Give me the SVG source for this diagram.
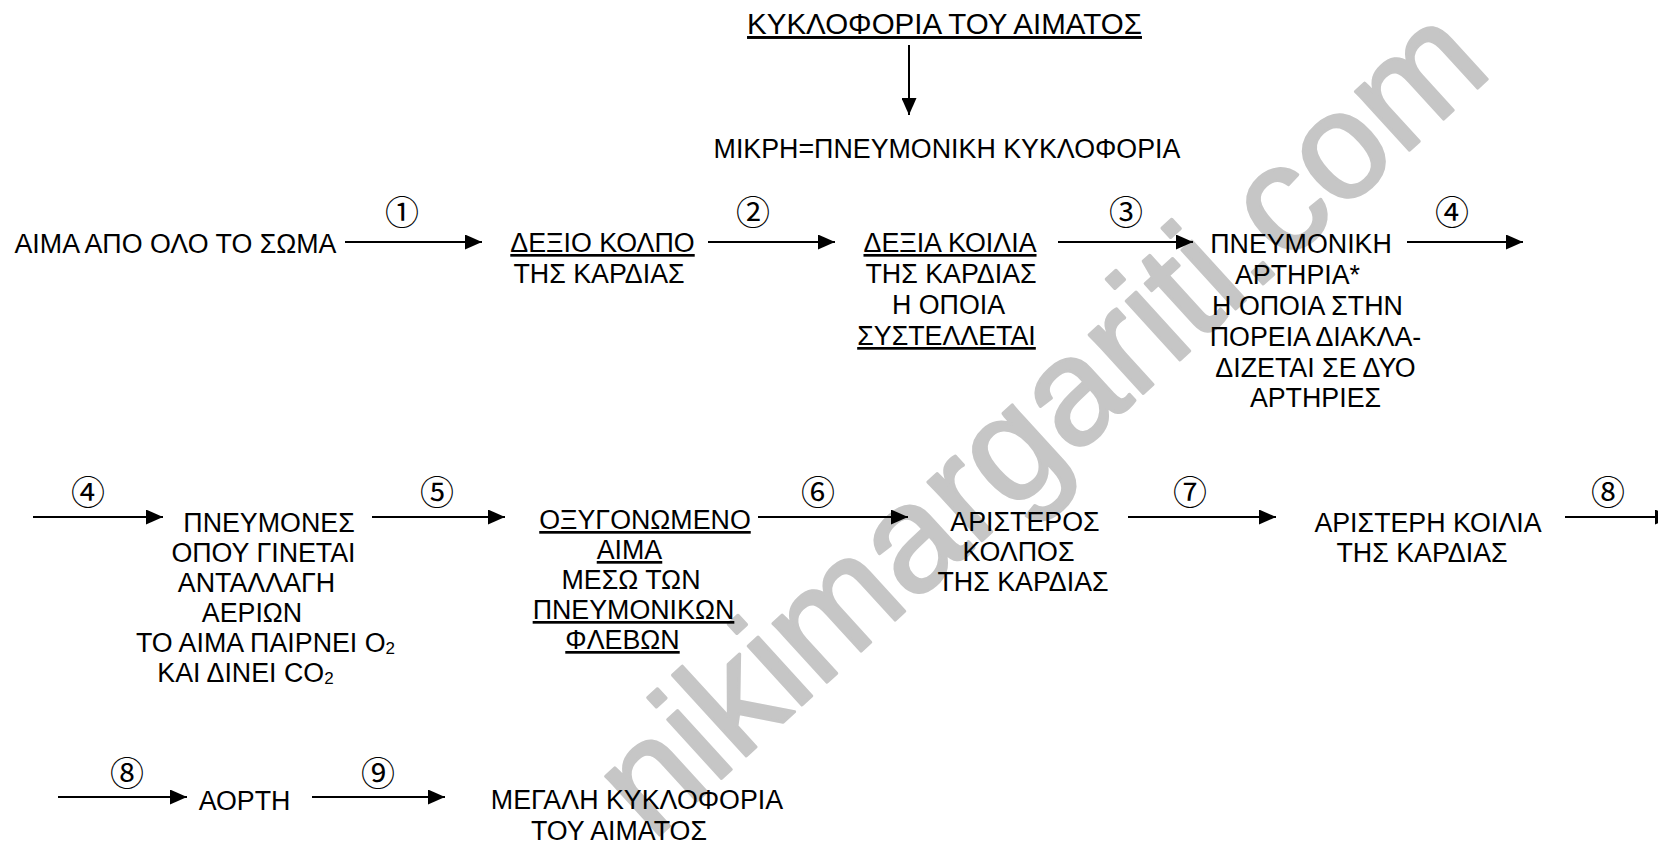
<svg xmlns="http://www.w3.org/2000/svg" width="1658" height="843" viewBox="0 0 1658 843">
<style>
  text { font-family: "Liberation Sans", Arial, sans-serif; fill: #000; }
  .t { font-size: 26.8px; text-anchor: middle; }
  .title { font-size: 29.5px; text-anchor: middle; }
  .u { text-decoration: underline; }
  .num { font-family: "Noto Sans CJK JP", "DejaVu Sans", sans-serif; font-size: 34px; text-anchor: middle; dominant-baseline: central; }
  .wm { font-family: "Liberation Sans", Arial, sans-serif; font-size: 151px; fill: #c6c6c6; stroke: #c6c6c6; stroke-width: 3; stroke-linejoin: round; stroke-linecap: round; }
  .arr { stroke: #000; stroke-width: 2; fill: none; marker-end: url(#ah); }
  .sub { font-size: 17px; }
</style>
<defs>
  <marker id="ah" viewBox="0 0 17 15" refX="17" refY="7.5" markerWidth="17" markerHeight="15" markerUnits="userSpaceOnUse" orient="auto">
    <path d="M0,0 L17,7.5 L0,15 z" fill="#000"/>
  </marker>
</defs>
<rect width="1658" height="843" fill="#fff"/>

<g id="watermark">
  <text class="wm" x="652" y="842" transform="rotate(-42.4 652 842)">nikimargariti.com</text>
</g>

<g id="connectors">
  <g id="c-title"><line class="arr" x1="909" y1="45" x2="909" y2="115"/></g>
  <g id="c1"><line class="arr" x1="345" y1="242" x2="482" y2="242"/><text class="num" x="402" y="210">①</text></g>
  <g id="c2"><line class="arr" x1="708" y1="242" x2="835" y2="242"/><text class="num" x="753" y="210">②</text></g>
  <g id="c3"><line class="arr" x1="1058" y1="242" x2="1193" y2="242"/><text class="num" x="1126" y="210">③</text></g>
  <g id="c4a"><line class="arr" x1="1407" y1="242" x2="1523" y2="242"/><text class="num" x="1452" y="210">④</text></g>
  <g id="c4b"><line class="arr" x1="33" y1="517" x2="163" y2="517"/><text class="num" x="88" y="490">④</text></g>
  <g id="c5"><line class="arr" x1="372" y1="517" x2="505" y2="517"/><text class="num" x="437" y="490">⑤</text></g>
  <g id="c6"><line class="arr" x1="758" y1="517" x2="908" y2="517"/><text class="num" x="818" y="490">⑥</text></g>
  <g id="c7"><line class="arr" x1="1128" y1="517" x2="1276" y2="517"/><text class="num" x="1190" y="490">⑦</text></g>
  <g id="c8a"><line class="arr" x1="1565" y1="517" x2="1672" y2="517"/><text class="num" x="1608" y="490">⑧</text></g>
  <g id="c8b"><line class="arr" x1="58" y1="797" x2="187" y2="797"/><text class="num" x="127" y="771">⑧</text></g>
  <g id="c9"><line class="arr" x1="312" y1="797" x2="445" y2="797"/><text class="num" x="378" y="771">⑨</text></g>
</g>

<g id="n-title">
  <text class="title u" x="944.5" y="34">ΚΥΚΛΟΦΟΡΙΑ ΤΟΥ ΑΙΜΑΤΟΣ</text>
</g>
<g id="n-mikri">
  <text class="t" x="947" y="158">ΜΙΚΡΗ=ΠΝΕΥΜΟΝΙΚΗ ΚΥΚΛΟΦΟΡΙΑ</text>
</g>
<g id="n-aima">
  <text class="t" x="175.5" y="253">ΑΙΜΑ ΑΠΟ ΟΛΟ ΤΟ ΣΩΜΑ</text>
</g>
<g id="n-dexio-kolpo">
  <text class="t u" x="602.5" y="252">ΔΕΞΙΟ ΚΟΛΠΟ</text>
  <text class="t" x="599" y="283">ΤΗΣ ΚΑΡΔΙΑΣ</text>
</g>
<g id="n-dexia-koilia">
  <text class="t u" x="950" y="252">ΔΕΞΙΑ ΚΟΙΛΙΑ</text>
  <text class="t" x="951" y="283">ΤΗΣ ΚΑΡΔΙΑΣ</text>
  <text class="t" x="948.5" y="314">Η ΟΠΟΙΑ</text>
  <text class="t u" x="946.5" y="345">ΣΥΣΤΕΛΛΕΤΑΙ</text>
</g>
<g id="n-pneumoniki-artiria">
  <text class="t" x="1301" y="253">ΠΝΕΥΜΟΝΙΚΗ</text>
  <text class="t" x="1297.5" y="284">ΑΡΤΗΡΙΑ*</text>
  <text class="t" x="1307.5" y="315">Η ΟΠΟΙΑ ΣΤΗΝ</text>
  <text class="t" x="1315.5" y="346">ΠΟΡΕΙΑ ΔΙΑΚΛΑ-</text>
  <text class="t" x="1315.5" y="377">ΔΙΖΕΤΑΙ ΣΕ ΔΥΟ</text>
  <text class="t" x="1315.5" y="407">ΑΡΤΗΡΙΕΣ</text>
</g>
<g id="n-pneumones">
  <text class="t" x="269" y="532">ΠΝΕΥΜΟΝΕΣ</text>
  <text class="t" x="263.5" y="562">ΟΠΟΥ ΓΙΝΕΤΑΙ</text>
  <text class="t" x="256.5" y="592">ΑΝΤΑΛΛΑΓΗ</text>
  <text class="t" x="252" y="622">ΑΕΡΙΩΝ</text>
  <text class="t" x="265.5" y="652">ΤΟ ΑΙΜΑ ΠΑΙΡΝΕΙ Ο<tspan class="sub" dy="2">2</tspan></text>
  <text class="t" x="245.5" y="682">ΚΑΙ ΔΙΝΕΙ CO<tspan class="sub" dy="2">2</tspan></text>
</g>
<g id="n-oxygonomeno">
  <text class="t u" x="645" y="529">ΟΞΥΓΟΝΩΜΕΝΟ</text>
  <text class="t u" x="629.5" y="559">ΑΙΜΑ</text>
  <text class="t" x="631" y="589">ΜΕΣΩ ΤΩΝ</text>
  <text class="t u" x="633.5" y="619">ΠΝΕΥΜΟΝΙΚΩΝ</text>
  <text class="t u" x="622.5" y="649">ΦΛΕΒΩΝ</text>
</g>
<g id="n-aristeros-kolpos">
  <text class="t" x="1025" y="531">ΑΡΙΣΤΕΡΟΣ</text>
  <text class="t" x="1018.5" y="561">ΚΟΛΠΟΣ</text>
  <text class="t" x="1023" y="591">ΤΗΣ ΚΑΡΔΙΑΣ</text>
</g>
<g id="n-aristeri-koilia">
  <text class="t" x="1428" y="532">ΑΡΙΣΤΕΡΗ ΚΟΙΛΙΑ</text>
  <text class="t" x="1422" y="562">ΤΗΣ ΚΑΡΔΙΑΣ</text>
</g>
<g id="n-aorti">
  <text class="t" x="244.5" y="810">ΑΟΡΤΗ</text>
</g>
<g id="n-megali">
  <text class="t" x="637" y="809">ΜΕΓΑΛΗ ΚΥΚΛΟΦΟΡΙΑ</text>
  <text class="t" x="619" y="840">ΤΟΥ ΑΙΜΑΤΟΣ</text>
</g>
</svg>
